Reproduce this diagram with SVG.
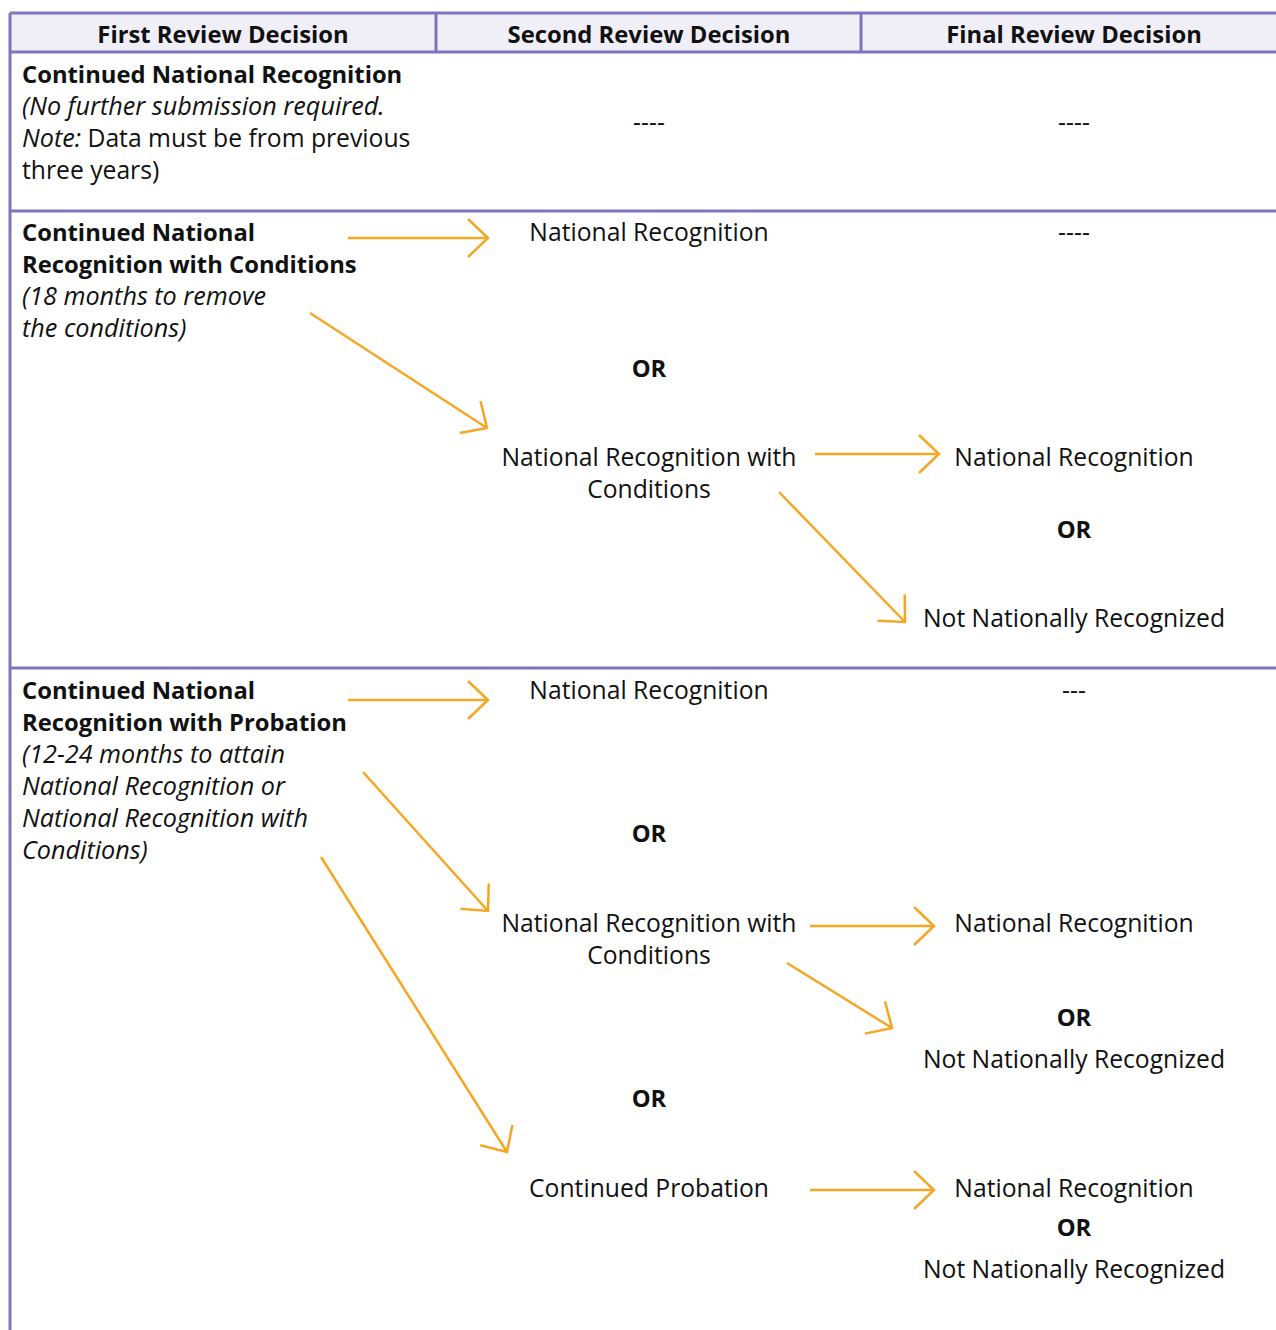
<svg xmlns="http://www.w3.org/2000/svg" width="1276" height="1330" viewBox="0 0 1276 1330">
  <style>
    text { font-family: "Open Sans", "Noto Sans", "Liberation Sans", sans-serif; font-size: 24.7px; fill: #111; }
    .b { font-weight: bold; font-size: 23.8px; }
    .i { font-style: italic; font-size: 25.2px; }
    .c { text-anchor: middle; }
    .hdr { font-weight: bold; font-size: 23.8px; text-anchor: middle; }
    .grid { stroke: #8273bd; stroke-width: 3; fill: none; }
    .arr { stroke: #f5a623; stroke-width: 2.5; fill: none; marker-end: url(#chev); }
  </style>
  <defs>
    <marker id="chev" markerUnits="userSpaceOnUse" markerWidth="60" markerHeight="60" refX="0" refY="0" orient="auto" overflow="visible" viewBox="-30 -30 60 60">
      <path d="M-20,-19 L0,0 L-20,19" fill="none" stroke="#f5a623" stroke-width="2.5" stroke-linejoin="miter"/>
    </marker>
  </defs>
  <rect width="1276" height="1330" fill="#fff"/>

  <g id="table">
    <rect x="10" y="13" width="1270" height="39" fill="#f0eff7"/>
    <path class="grid" d="M10,13 H1276 M10,52 H1276 M10,13 V1330 M436,13 V52 M861,13 V52 M10,211 H1276 M10,668 H1276"/>
  </g>

  <g id="header">
    <text class="hdr" x="223" y="43">First Review Decision</text>
    <text class="hdr" x="649" y="43">Second Review Decision</text>
    <text class="hdr" x="1074" y="43">Final Review Decision</text>
  </g>

  <g id="row1-first">
    <text class="b" x="22" y="83">Continued National Recognition</text>
    <text class="i" x="22" y="115">(No further submission required.</text>
    <text x="22" y="147"><tspan class="i">Note:</tspan> Data must be from previous</text>
    <text x="22" y="179">three years)</text>
  </g>
  <g id="row1-second"><text class="c" x="649" y="131">----</text></g>
  <g id="row1-final"><text class="c" x="1074" y="131">----</text></g>

  <g id="row2-first">
    <text class="b" x="22" y="241">Continued National</text>
    <text class="b" x="22" y="273">Recognition with Conditions</text>
    <text class="i" x="22" y="305">(18 months to remove</text>
    <text class="i" x="22" y="337">the conditions)</text>
  </g>
  <g id="row2-nr"><text class="c" x="649" y="241">National Recognition</text></g>
  <g id="row2-final-dash"><text class="c" x="1074" y="241">----</text></g>
  <g id="row2-or1"><text class="c b" x="649" y="377">OR</text></g>
  <g id="row2-nrc">
    <text class="c" x="649" y="466">National Recognition with</text>
    <text class="c" x="649" y="498">Conditions</text>
  </g>
  <g id="row2-final-nr"><text class="c" x="1074" y="466">National Recognition</text></g>
  <g id="row2-or2"><text class="c b" x="1074" y="538">OR</text></g>
  <g id="row2-final-nnr"><text class="c" x="1074" y="627">Not Nationally Recognized</text></g>

  <g id="row3-first">
    <text class="b" x="22" y="699">Continued National</text>
    <text class="b" x="22" y="731">Recognition with Probation</text>
    <text class="i" x="22" y="763">(12-24 months to attain</text>
    <text class="i" x="22" y="795">National Recognition or</text>
    <text class="i" x="22" y="827">National Recognition with</text>
    <text class="i" x="22" y="859">Conditions)</text>
  </g>
  <g id="row3-nr"><text class="c" x="649" y="699">National Recognition</text></g>
  <g id="row3-final-dash"><text class="c" x="1074" y="699">---</text></g>
  <g id="row3-or1"><text class="c b" x="649" y="842">OR</text></g>
  <g id="row3-nrc">
    <text class="c" x="649" y="932">National Recognition with</text>
    <text class="c" x="649" y="964">Conditions</text>
  </g>
  <g id="row3-final-nr1"><text class="c" x="1074" y="932">National Recognition</text></g>
  <g id="row3-or2"><text class="c b" x="1074" y="1026">OR</text></g>
  <g id="row3-final-nnr1"><text class="c" x="1074" y="1068">Not Nationally Recognized</text></g>
  <g id="row3-or3"><text class="c b" x="649" y="1107">OR</text></g>
  <g id="row3-cp"><text class="c" x="649" y="1197">Continued Probation</text></g>
  <g id="row3-final-nr2"><text class="c" x="1074" y="1197">National Recognition</text></g>
  <g id="row3-or4"><text class="c b" x="1074" y="1236">OR</text></g>
  <g id="row3-final-nnr2"><text class="c" x="1074" y="1278">Not Nationally Recognized</text></g>

  <g id="connectors">
    <line class="arr" x1="348" y1="238" x2="488" y2="238"/>
    <line class="arr" x1="310" y1="313" x2="487" y2="428"/>
    <line class="arr" x1="815" y1="454" x2="939" y2="454"/>
    <line class="arr" x1="779" y1="492" x2="905" y2="622"/>
    <line class="arr" x1="348" y1="700" x2="488" y2="700"/>
    <line class="arr" x1="363" y1="772" x2="488" y2="911"/>
    <line class="arr" x1="321" y1="857" x2="507" y2="1152"/>
    <line class="arr" x1="810" y1="926" x2="934" y2="926"/>
    <line class="arr" x1="787" y1="963" x2="892" y2="1028"/>
    <line class="arr" x1="810" y1="1190" x2="934" y2="1190"/>
  </g>
</svg>
